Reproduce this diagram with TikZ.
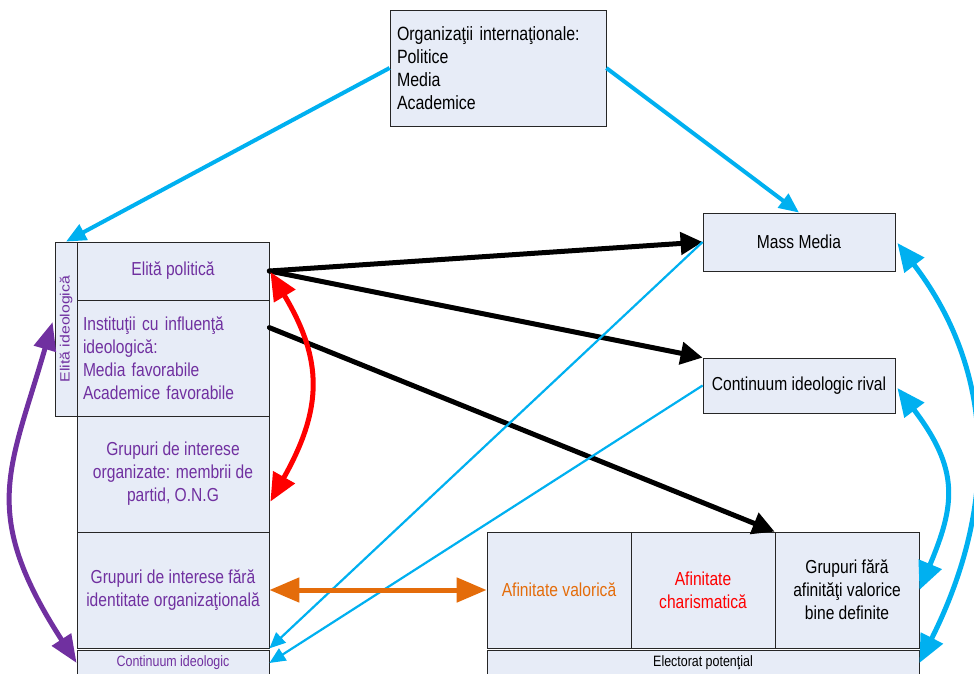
\documentclass[tikz,border=0pt]{standalone}
\usepackage{fontspec}
\setmainfont{Liberation Sans}[FakeStretch=0.83]
\newfontfamily\plainsans{Liberation Sans}
\usetikzlibrary{arrows.meta,calc}
\definecolor{boxfill}{RGB}{231,236,247}
\definecolor{cyanA}{RGB}{0,176,240}
\definecolor{purp}{RGB}{112,48,160}
\definecolor{orng}{RGB}{228,108,10}
\newcommand\mainfnt{\fontsize{18.8}{23}\selectfont\spaceskip=4.3pt\relax}
\newcommand\topfnt{\fontsize{19.2}{23}\selectfont\spaceskip=4.4pt\relax}
\newcommand\smallfnt{\fontsize{15}{17}\selectfont\spaceskip=3.4pt\relax}
\begin{document}
\begin{tikzpicture}[x=1pt,y=-1pt,
  box/.style={draw=black!85, line width=0.8pt, fill=boxfill, inner sep=0pt, align=center,
    font=\mainfnt},
  smallbox/.style={box, font=\smallfnt},
  blk/.style={line width=5pt, black, line cap=round, -{Triangle[length=22pt,width=22pt]}},
  cyantop/.style={line width=4pt, cyanA, -{Triangle[length=20pt,width=17pt]}},
  cyanthin/.style={line width=2.2pt, cyanA, -{Triangle[length=16pt,width=14pt]}},
  cyancurve/.style={line width=5pt, cyanA, {Triangle[length=28pt,width=24pt]}-{Triangle[length=28pt,width=24pt]}},
  redarr/.style={line width=5pt, red, {Triangle[length=28pt,width=24pt]}-{Triangle[length=28pt,width=24pt]}},
  purarr/.style={line width=5pt, purp, {Triangle[length=28pt,width=22pt]}-{Triangle[length=28pt,width=22pt]}},
  orarr/.style={line width=5pt, orng, {Triangle[length=30pt,width=24pt]}-{Triangle[length=30pt,width=24pt]}}
]
\useasboundingbox (0,0) rectangle (974,674);

% top box
\node[box, minimum width=216pt, minimum height=116pt, text width=202pt, align=left,
  font=\topfnt] (org) at (498,68)
  {Organizaţii internaţionale:\\Politice\\Media\\Academice};

% left column
\node[box, minimum width=22pt, minimum height=174pt, text=purp] (eid) at (66,329)
  {\scalebox{0.85}[1]{\rotatebox{90}{\plainsans\fontsize{15.8}{17}\selectfont Elită ideologică}}};
\node[box, minimum width=192pt, minimum height=58pt, text=purp] (ep) at (173,271) {Elită politică};
\node[box, minimum width=192pt, minimum height=116pt, text width=180pt, align=left, text=purp] (inst) at (173,358)
  {Instituţii cu influenţă\\ideologică:\\Media favorabile\\Academice favorabile};
\node[box, minimum width=192pt, minimum height=116pt, text=purp] (gio) at (173,474)
  {Grupuri de interese\\organizate: membrii de\\partid, O.N.G};
\node[box, minimum width=192pt, minimum height=116pt, text=purp] (gfo) at (173,590)
  {Grupuri de interese fără\\identitate organizaţională};
\node[smallbox, minimum width=192pt, minimum height=26pt, text=purp] (ci) at (173,663) {Continuum ideologic};

% right side
\node[box, minimum width=192pt, minimum height=58pt] (mm) at (799,242) {Mass Media};
\node[box, minimum width=192pt, minimum height=55pt] (rival) at (799,385.5) {Continuum ideologic rival};
\node[box, minimum width=144pt, minimum height=116pt, text=orng] (av) at (559,590) {Afinitate valorică};
\node[box, minimum width=144pt, minimum height=116pt, text=red] (ac) at (703,590) {Afinitate\\charismatică};
\node[box, minimum width=144pt, minimum height=116pt] (gf) at (847,590) {Grupuri fără\\afinităţi valorice\\bine definite};
\node[smallbox, minimum width=432pt, minimum height=26pt] (el) at (703,663) {Electorat potenţial};

% helper coordinates
\coordinate (i1) at ($(inst.north east)+(0,28)$);
\coordinate (r0) at ($(ep.east)+(1,1)$);
\coordinate (r1) at ($(gio.north east)+(1,86)$);
\coordinate (p0) at ($(eid.west)+(-2,-7)$);
\coordinate (c0) at ($(mm.east)+(2,1)$);
\coordinate (v0) at ($(rival.east)+(2,2.5)$);

% cyan from top box
\draw[cyantop] (org.west) -- (eid.north);
\draw[cyantop] (org.east) -- (mm.north);

% black arrows
\draw[blk] (ep.east) -- (mm.west);
\draw[blk] (ep.east) -- (rival.north west);
\draw[blk] (i1) -- (gf.north west);

% thin cyan
\draw[cyanthin] (mm.west) -- (gfo.south east);
\draw[cyanthin] (rival.west) -- (ci.east);

% red
\draw[redarr] (r0) .. controls (323,360) and (323,408) .. (r1);
% purple
\draw[purarr] (p0) .. controls (10,470) and (-21,512) .. (ci.west);
% orange
\draw[orarr] (gfo.east) -- (av.west);
% cyan curves
\draw[cyancurve] (c0) .. controls (996,372) and (998,506) .. (el.east);
\draw[cyancurve] (v0) .. controls (960,470) and (955,505) .. (gf.east);
\end{tikzpicture}
\end{document}
